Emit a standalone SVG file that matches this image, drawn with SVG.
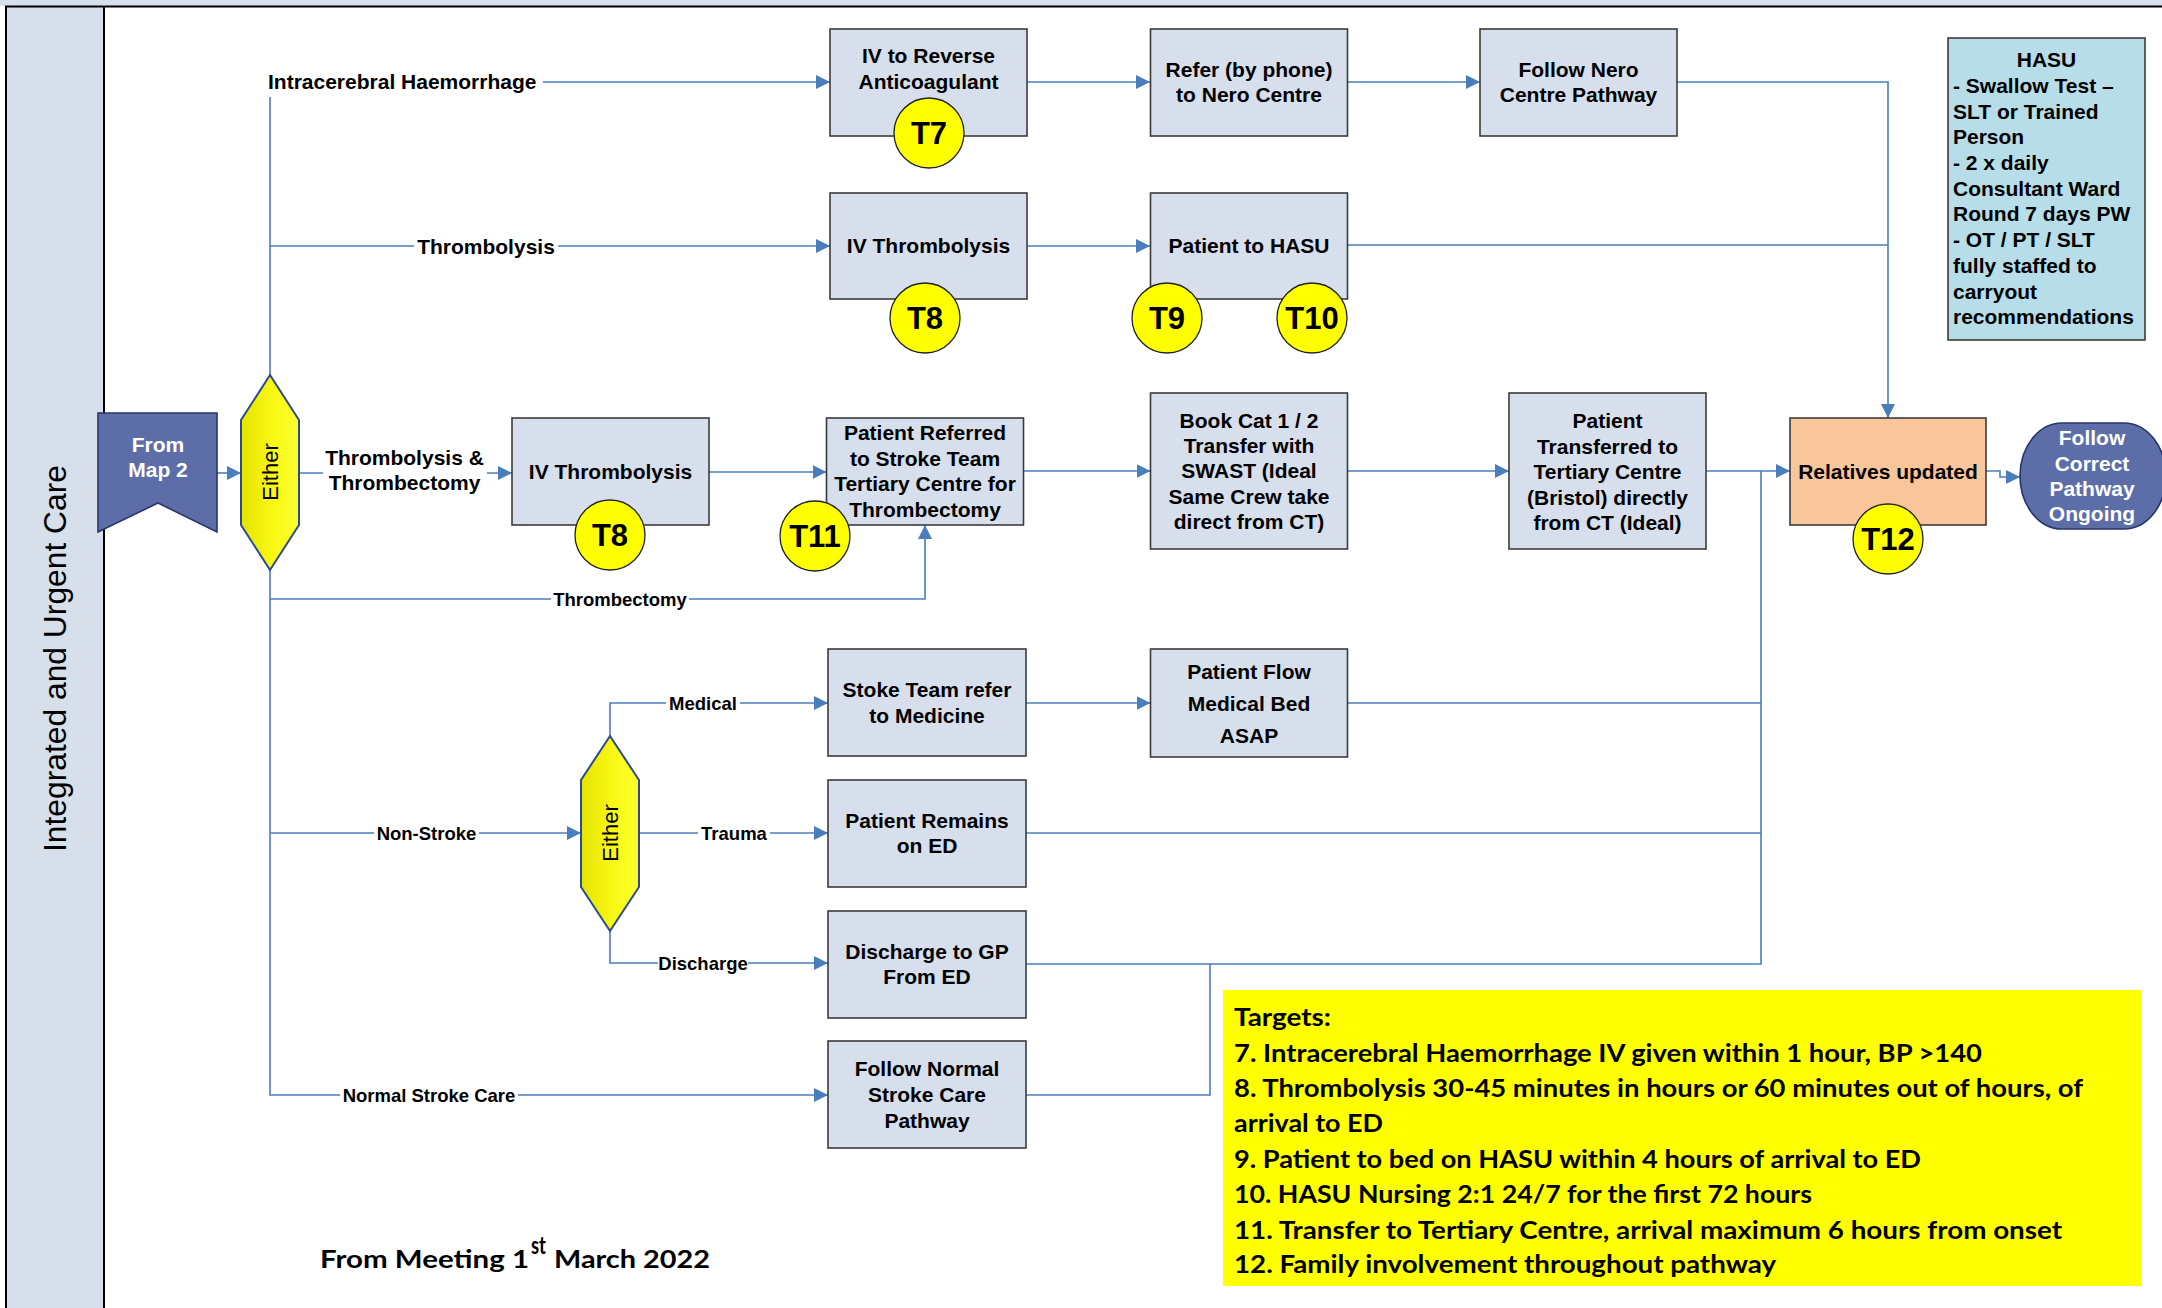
<svg xmlns="http://www.w3.org/2000/svg" width="2162" height="1308" viewBox="0 0 2162 1308">
<style>
  .box { fill: #d6dfeb; stroke: #3b3b3b; stroke-width: 1.6; }
  .t { font-family: "Liberation Sans", Arial, sans-serif; font-weight: bold; font-size: 21px; fill: #000; text-anchor: middle; }
  .tl { font-family: "Liberation Sans", Arial, sans-serif; font-weight: bold; font-size: 21px; fill: #000; }
  .w { fill: #fff; }
  .lbl { font-family: "Liberation Sans", Arial, sans-serif; font-weight: bold; font-size: 18.5px; fill: #000; text-anchor: middle; }
  .lblbg { fill: #fff; }
  .conn { fill: none; stroke: #4a7ebb; stroke-width: 1.6; }
  .arr { marker-end: url(#ah); }
  .badge { fill: #ffff00; stroke: #222; stroke-width: 1.3; }
  .badge-t { font-family: "Liberation Sans", Arial, sans-serif; font-weight: bold; font-size: 31px; fill: #000; text-anchor: middle; }
  .either { fill: url(#yg); stroke: #2c4a8c; stroke-width: 2; }
  .either-t { font-family: "Liberation Sans", Arial, sans-serif; font-size: 22px; fill: #000; text-anchor: middle; }
  .navy { fill: #5d6da8; stroke: #28366a; stroke-width: 1.6; }
  .cal { font-family: Lato, "Liberation Sans", sans-serif; font-weight: bold; font-size: 25px; fill: #000; }
</style>
<defs>
  <marker id="ah" markerUnits="userSpaceOnUse" markerWidth="14" markerHeight="14" refX="14" refY="7" orient="auto" viewBox="0 0 14 14">
    <path d="M0,0 L14,7 L0,14 z" fill="#4a7ebb"/>
  </marker>
  <linearGradient id="yg" x1="0" y1="0" x2="1" y2="0">
    <stop offset="0" stop-color="#e4e400"/>
    <stop offset="0.55" stop-color="#f8f814"/>
    <stop offset="1" stop-color="#ffff30"/>
  </linearGradient>
</defs>

<!-- page frame: header strip and swim-lane -->
<g id="frame">
  <rect x="0" y="0" width="2162" height="1308" fill="#fff"/>
  <rect x="0" y="0" width="2162" height="6" fill="#d6dfea"/>
  <rect x="6" y="7" width="98" height="1302" fill="#d6dfea"/>
  <line x1="5" y1="6.5" x2="2162" y2="6.5" stroke="#000" stroke-width="2.2"/>
  <line x1="6" y1="6" x2="6" y2="1308" stroke="#000" stroke-width="2"/>
  <line x1="104" y1="6" x2="104" y2="1308" stroke="#000" stroke-width="2"/>
  <text transform="translate(66,658.5) rotate(-90)" text-anchor="middle" font-family="Liberation Sans, Arial, sans-serif" font-size="32" textLength="387" lengthAdjust="spacingAndGlyphs">Integrated and Urgent Care</text>
</g>

<!-- connectors -->
<g id="connectors">
  <path class="conn arr" d="M270,375 V82 H830"/>
  <path class="conn arr" d="M270,246 H830"/>
  <path class="conn arr" d="M1027,82 H1150"/>
  <path class="conn arr" d="M1347,82 H1480"/>
  <path class="conn arr" d="M1677,82 H1888 V418"/>
  <path class="conn arr" d="M1027,246 H1150"/>
  <path class="conn" d="M1347,245 H1888"/>
  <path class="conn arr" d="M217,473 H241"/>
  <path class="conn arr" d="M299,473 H512"/>
  <path class="conn arr" d="M709,472 H826.5"/>
  <path class="conn arr" d="M1023.5,471 H1150.5"/>
  <path class="conn arr" d="M1347.5,471 H1509"/>
  <path class="conn arr" d="M1706,471 H1790"/>
  <path class="conn arr" d="M1986,471 H2000 V477 H2020"/>
  <path class="conn arr" d="M270,570 V1095 H828"/>
  <path class="conn arr" d="M270,599 H925 V525"/>
  <path class="conn arr" d="M270,833 H581"/>
  <path class="conn arr" d="M610,736 V703 H828"/>
  <path class="conn arr" d="M639,833 H828"/>
  <path class="conn arr" d="M610,931 V963 H828"/>
  <path class="conn arr" d="M1026,703 H1150.5"/>
  <path class="conn" d="M1347.5,703 H1761"/>
  <path class="conn" d="M1026,833 H1761"/>
  <path class="conn" d="M1026,964 H1761 V471"/>
  <path class="conn" d="M1026,1095 H1210 V964"/>

  <!-- connector labels -->
  <rect class="lblbg" x="265" y="68" width="278" height="29"/>
  <text class="tl" x="268" y="89">Intracerebral Haemorrhage</text>
  <rect class="lblbg" x="414" y="233" width="144" height="27"/>
  <text class="t" x="486" y="253.5">Thrombolysis</text>
  <rect class="lblbg" x="323" y="446" width="164" height="52"/>
  <text class="t" x="404.5" y="465">Thrombolysis &amp;</text>
  <text class="t" x="404.5" y="490">Thrombectomy</text>
  <rect class="lblbg" x="551" y="588" width="138" height="23"/>
  <text class="lbl" x="620" y="605.5">Thrombectomy</text>
  <rect class="lblbg" x="666" y="692" width="74" height="23"/>
  <text class="lbl" x="703" y="709.5">Medical</text>
  <rect class="lblbg" x="698" y="822" width="72" height="23"/>
  <text class="lbl" x="734" y="839.5">Trauma</text>
  <rect class="lblbg" x="658" y="952" width="90" height="23"/>
  <text class="lbl" x="703" y="969.5">Discharge</text>
  <rect class="lblbg" x="374" y="822" width="105" height="23"/>
  <text class="lbl" x="426.5" y="839.5">Non-Stroke</text>
  <rect class="lblbg" x="340" y="1084" width="178" height="23"/>
  <text class="lbl" x="429" y="1101.5">Normal Stroke Care</text>
</g>

<!-- start node -->
<g id="from-map-2">
  <polygon class="navy" points="98,413 217,413 217,532 158,503 98,532"/>
  <text class="t w" x="158" y="452">From</text>
  <text class="t w" x="158" y="477">Map 2</text>
</g>

<!-- decision: stroke type -->
<g id="either-main">
  <polygon class="either" points="270,375 299,420 299,525 270,570 241,525 241,420"/>
  <text class="either-t" transform="translate(278,472) rotate(-90)">Either</text>
</g>

<!-- decision: non-stroke outcome -->
<g id="either-nonstroke">
  <polygon class="either" points="610,736 639,780 639,887 610,931 581,887 581,780"/>
  <text class="either-t" transform="translate(618,833) rotate(-90)">Either</text>
</g>

<g id="iv-reverse">
  <rect class="box" x="830" y="29" width="197" height="107"/>
  <text class="t" x="928.5" y="63">IV to Reverse</text>
  <text class="t" x="928.5" y="89">Anticoagulant</text>
</g>
<g id="refer-nero">
  <rect class="box" x="1150.5" y="29" width="197" height="107"/>
  <text class="t" x="1249" y="76.5">Refer (by phone)</text>
  <text class="t" x="1249" y="102">to Nero Centre</text>
</g>
<g id="follow-nero">
  <rect class="box" x="1480" y="29" width="197" height="107"/>
  <text class="t" x="1578.5" y="76.5">Follow Nero</text>
  <text class="t" x="1578.5" y="102">Centre Pathway</text>
</g>
<g id="iv-thrombolysis-a">
  <rect class="box" x="830" y="193" width="197" height="106"/>
  <text class="t" x="928.5" y="252.5">IV Thrombolysis</text>
</g>
<g id="patient-to-hasu">
  <rect class="box" x="1150.5" y="193" width="197" height="106"/>
  <text class="t" x="1249" y="252.5">Patient to HASU</text>
</g>
<g id="iv-thrombolysis-b">
  <rect class="box" x="512" y="418" width="197" height="107"/>
  <text class="t" x="610.5" y="478.5">IV Thrombolysis</text>
</g>
<g id="patient-referred">
  <rect class="box" x="826.5" y="418" width="197" height="107"/>
  <text class="t" x="925" y="440">Patient Referred</text>
  <text class="t" x="925" y="465.5">to Stroke Team</text>
  <text class="t" x="925" y="491">Tertiary Centre for</text>
  <text class="t" x="925" y="516.5">Thrombectomy</text>
</g>
<g id="book-cat">
  <rect class="box" x="1150.5" y="393" width="197" height="156"/>
  <text class="t" x="1249" y="427.5">Book Cat 1 / 2</text>
  <text class="t" x="1249" y="452.5">Transfer with</text>
  <text class="t" x="1249" y="478">SWAST (Ideal</text>
  <text class="t" x="1249" y="504">Same Crew take</text>
  <text class="t" x="1249" y="529">direct from CT)</text>
</g>
<g id="patient-transferred">
  <rect class="box" x="1509" y="393" width="197" height="156"/>
  <text class="t" x="1607.5" y="427.5">Patient</text>
  <text class="t" x="1607.5" y="453.5">Transferred to</text>
  <text class="t" x="1607.5" y="478.5">Tertiary Centre</text>
  <text class="t" x="1607.5" y="504.5">(Bristol) directly</text>
  <text class="t" x="1607.5" y="529.5">from CT (Ideal)</text>
</g>
<g id="relatives-updated">
  <rect x="1790" y="418" width="196" height="107" fill="#f9c59b" stroke="#3b3b3b" stroke-width="1.6"/>
  <text class="t" x="1888" y="478.5">Relatives updated</text>
</g>
<g id="follow-correct">
  <rect class="navy" x="2020" y="423" width="146" height="106" rx="42" ry="53"/>
  <text class="t w" x="2092" y="444.5">Follow</text>
  <text class="t w" x="2092" y="470.5">Correct</text>
  <text class="t w" x="2092" y="495.5">Pathway</text>
  <text class="t w" x="2092" y="520.5">Ongoing</text>
</g>
<g id="stoke-team-refer">
  <rect class="box" x="828" y="649" width="198" height="107"/>
  <text class="t" x="927" y="696.5">Stoke Team refer</text>
  <text class="t" x="927" y="722.5">to Medicine</text>
</g>
<g id="patient-flow">
  <rect class="box" x="1150.5" y="649" width="197" height="108"/>
  <text class="t" x="1249" y="679" font-size="22">Patient Flow</text>
  <text class="t" x="1249" y="711" font-size="22">Medical Bed</text>
  <text class="t" x="1249" y="742.5" font-size="22">ASAP</text>
</g>
<g id="patient-remains">
  <rect class="box" x="828" y="780" width="198" height="107"/>
  <text class="t" x="927" y="827.5">Patient Remains</text>
  <text class="t" x="927" y="853">on ED</text>
</g>
<g id="discharge-gp">
  <rect class="box" x="828" y="911" width="198" height="107"/>
  <text class="t" x="927" y="958.5">Discharge to GP</text>
  <text class="t" x="927" y="984">From ED</text>
</g>
<g id="follow-normal">
  <rect class="box" x="828" y="1041" width="198" height="107"/>
  <text class="t" x="927" y="1075.5">Follow Normal</text>
  <text class="t" x="927" y="1101.5">Stroke Care</text>
  <text class="t" x="927" y="1127.5">Pathway</text>
</g>

<!-- HASU standards note -->
<g id="hasu-note">
  <rect x="1948" y="38" width="197" height="302" fill="#b7dee8" stroke="#3b3b3b" stroke-width="1.6"/>
  <text class="t" x="2046.5" y="66.5">HASU</text>
  <text class="tl" x="1953" y="92.5">- Swallow Test –</text>
  <text class="tl" x="1953" y="118.5">SLT or Trained</text>
  <text class="tl" x="1953" y="144">Person</text>
  <text class="tl" x="1953" y="170">- 2 x daily</text>
  <text class="tl" x="1953" y="195.5">Consultant Ward</text>
  <text class="tl" x="1953" y="221">Round 7 days PW</text>
  <text class="tl" x="1953" y="247">- OT / PT / SLT</text>
  <text class="tl" x="1953" y="272.5">fully staffed to</text>
  <text class="tl" x="1953" y="298.5">carryout</text>
  <text class="tl" x="1953" y="324">recommendations</text>
</g>

<!-- target badges -->
<g id="badge-t7"><circle class="badge" cx="929" cy="133" r="35"/><text class="badge-t" x="929" y="144">T7</text></g>
<g id="badge-t8a"><circle class="badge" cx="925" cy="318" r="35"/><text class="badge-t" x="925" y="329">T8</text></g>
<g id="badge-t9"><circle class="badge" cx="1167" cy="318" r="35"/><text class="badge-t" x="1167" y="329">T9</text></g>
<g id="badge-t10"><circle class="badge" cx="1312" cy="318" r="35"/><text class="badge-t" x="1312" y="329">T10</text></g>
<g id="badge-t8b"><circle class="badge" cx="610" cy="535" r="35"/><text class="badge-t" x="610" y="546">T8</text></g>
<g id="badge-t11"><circle class="badge" cx="815" cy="536" r="35"/><text class="badge-t" x="815" y="547">T11</text></g>
<g id="badge-t12"><circle class="badge" cx="1888" cy="539" r="35"/><text class="badge-t" x="1888" y="550">T12</text></g>

<!-- targets key -->
<g id="targets">
  <rect x="1223" y="990" width="918" height="296" fill="#ffff00"/>
  <text class="cal" x="1234" y="1026" textLength="97" lengthAdjust="spacingAndGlyphs">Targets:</text>
  <text class="cal" x="1234" y="1062" textLength="748" lengthAdjust="spacingAndGlyphs">7. Intracerebral Haemorrhage IV given within 1 hour, BP &gt;140</text>
  <text class="cal" x="1234" y="1097" textLength="849" lengthAdjust="spacingAndGlyphs">8. Thrombolysis 30-45 minutes in hours or 60 minutes out of hours, of</text>
  <text class="cal" x="1234" y="1132" textLength="149" lengthAdjust="spacingAndGlyphs">arrival to ED</text>
  <text class="cal" x="1234" y="1168" textLength="687" lengthAdjust="spacingAndGlyphs">9. Patient to bed on HASU within 4 hours of arrival to ED</text>
  <text class="cal" x="1234" y="1203" textLength="578" lengthAdjust="spacingAndGlyphs">10. HASU Nursing 2:1 24/7 for the first 72 hours</text>
  <text class="cal" x="1234" y="1239" textLength="828" lengthAdjust="spacingAndGlyphs">11. Transfer to Tertiary Centre, arrival maximum 6 hours from onset</text>
  <text class="cal" x="1234" y="1273" textLength="542" lengthAdjust="spacingAndGlyphs">12. Family involvement throughout pathway</text>
</g>

<!-- meeting date footer -->
<g id="footer">
  <text class="cal" x="320" y="1268" font-size="27" textLength="209" lengthAdjust="spacingAndGlyphs">From Meeting 1</text>
  <text class="cal" x="531" y="1254" font-size="16" textLength="15" lengthAdjust="spacingAndGlyphs">st</text>
  <text class="cal" x="554" y="1268" font-size="27" textLength="156" lengthAdjust="spacingAndGlyphs">March 2022</text>
</g>
</svg>
